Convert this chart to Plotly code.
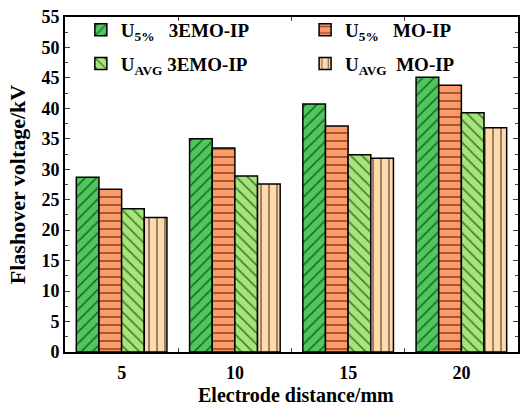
import plotly.graph_objects as go

categories = ["5", "10", "15", "20"]
u5_3emo = [28.7, 35.0, 40.7, 45.1]
u5_mo = [26.7, 33.5, 37.1, 43.8]
uavg_3emo = [23.5, 28.9, 32.4, 39.3]
uavg_mo = [22.1, 27.6, 31.8, 36.8]

names = ["<b>U<sub>5%</sub>   3EMO-IP</b>", "<b>U<sub>5%</sub>   MO-IP</b>",
         "<b>U<sub>AVG</sub> 3EMO-IP</b>", "<b>U<sub>AVG</sub>  MO-IP</b>"]
colors = ["#4DC95B", "#FF9966", "#A2E878", "#FFD9AA"]
shapes = ["/", "-", "\\", "|"]
legends = ["legend", "legend2", "legend", "legend2"]
groups = ["a", "b", "c", "d"]
series = [u5_3emo, u5_mo, uavg_3emo, uavg_mo]

family = "Liberation Serif, Times New Roman, serif"
font = dict(family=family, size=18, color="black")

fig = go.Figure()
for name, vals, c, s, lg, g in zip(names, series, colors, shapes, legends, groups):
    fig.add_trace(go.Bar(
        x=categories, y=vals, name=name, legend=lg, legendgroup=g,
        marker=dict(color=c, line=dict(color="black", width=1.5),
                    pattern=dict(shape=s, fgcolor="black", bgcolor=c,
                                 size=8, solidity=0.2, fillmode="overlay")),
    ))

fig.update_layout(
    width=520, height=405,
    margin=dict(l=65, r=2, t=17, b=53),
    paper_bgcolor="white", plot_bgcolor="white",
    barmode="group", bargap=0.2, bargroupgap=0,
    font=font,
    showlegend=True,
    legend=dict(x=0.035, y=1.018, xanchor="left", yanchor="top",
                bgcolor="rgba(0,0,0,0)", font=dict(size=19), tracegroupgap=6),
    legend2=dict(x=0.53, y=1.018, xanchor="left", yanchor="top",
                 bgcolor="rgba(0,0,0,0)", font=dict(size=19), tracegroupgap=6),
    annotations=[dict(text="<b>Electrode distance/mm</b>", xref="paper", yref="paper",
                      x=0.51, y=-0.127, xanchor="center", yanchor="middle",
                      showarrow=False,
                      font=dict(family=family, size=20, color="black"))],
)
fig.update_xaxes(
    type="category", tickson="boundaries", ticks="inside", ticklen=4,
    showline=True, linecolor="black", linewidth=2, mirror="ticks",
    tickprefix="<b>", ticksuffix="</b>", ticklabelstandoff=3,
    showgrid=False, automargin=False,
)
fig.update_yaxes(
    range=[0, 55], dtick=5, ticks="inside", ticklen=5,
    minor=dict(ticks="inside", dtick=2.5, ticklen=3),
    showline=True, linecolor="black", linewidth=2, mirror="ticks",
    title=dict(text="<b>Flashover voltage/kV</b>", standoff=10),
    tickprefix="<b>", ticksuffix="</b>",
    showgrid=False, zeroline=False, automargin=False,
)

fig.write_html("out.html", post_script="document.body.style.margin='0';",
               config={"displayModeBar": False})
